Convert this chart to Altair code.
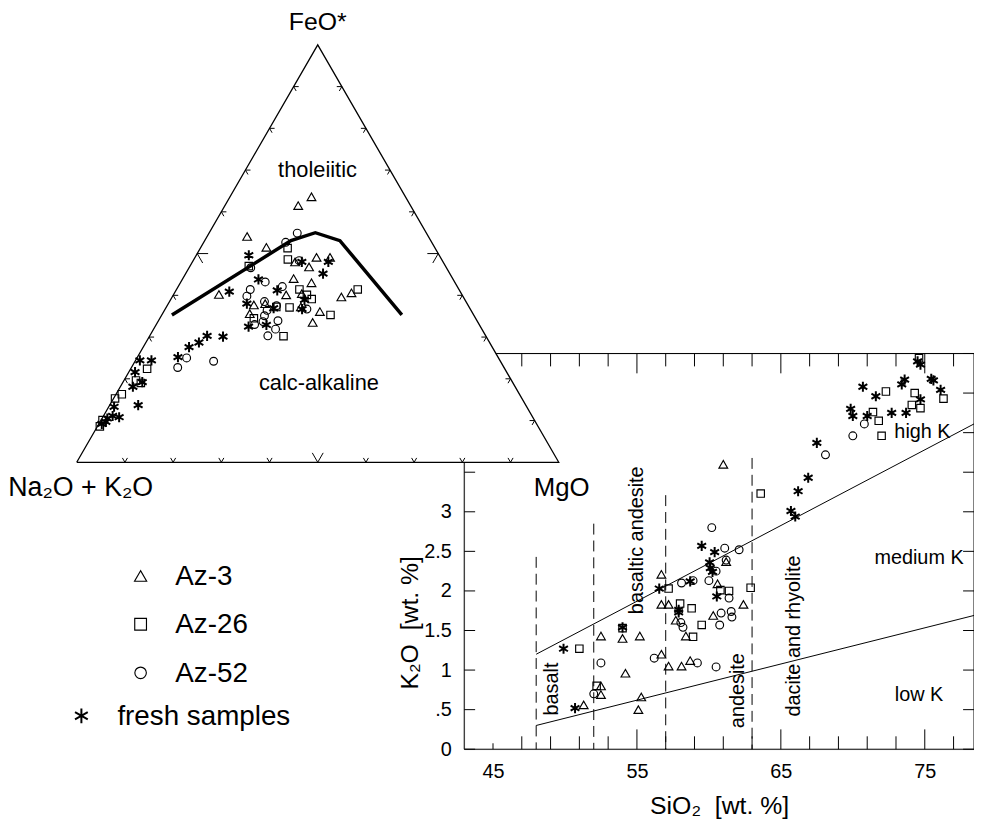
import altair as alt
import pandas as pd

# ---------------- K2O vs SiO2 (wt. %) ----------------
az3_sio2 = [61.0, 61.2, 56.7, 60.6, 56.7, 57.2, 62.4, 57.7, 60.3, 58.4, 52.5, 54.0, 55.2,
            56.7, 57.2, 58.1, 58.7, 54.2, 52.5, 52.5, 51.3, 55.3, 55.1]
az3_k2o = [3.60, 2.37, 2.21, 2.09, 1.83, 1.83, 1.83, 1.63, 1.69, 1.43, 1.43, 1.40, 1.43,
           1.20, 1.05, 1.05, 1.12, 0.96, 0.80, 0.69, 0.56, 0.66, 0.50]
az26_sio2 = [74.6, 72.3, 74.3, 76.3, 71.4, 74.1, 74.7, 71.8, 72.0, 63.6, 57.2, 60.8, 61.4,
             62.9, 58.0, 58.8, 59.5, 54.0, 51.0, 52.2, 58.9]
az26_k2o = [4.94, 4.52, 4.50, 4.43, 4.26, 4.35, 4.31, 4.15, 3.96, 3.23, 2.03, 2.01, 2.00,
            2.04, 1.84, 1.78, 1.57, 1.53, 1.27, 0.80, 1.42]
az52_sio2 = [70.0, 70.8, 68.1, 60.2, 61.1, 62.1, 61.2, 60.5, 60.0, 58.1, 58.9, 61.4, 61.55,
             61.6, 60.85, 60.75, 58.05, 58.2, 56.2, 59.2, 60.5, 52.5, 52.0]
az52_k2o = [3.96, 4.11, 3.72, 2.80, 2.54, 2.52, 2.39, 2.25, 2.13, 2.10, 2.13, 1.91, 1.74,
            1.67, 1.72, 1.57, 1.60, 1.54, 1.15, 1.09, 1.04, 1.09, 0.70]
fresh_sio2 = [74.5, 74.7, 75.45, 75.6, 76.1, 73.6, 73.4, 70.7, 71.6, 74.7, 69.85, 70.0, 71.0,
              72.7, 73.7, 67.5, 66.9, 66.2, 65.7, 66.0, 59.5, 60.4, 60.05, 60.1, 60.25, 58.7,
              56.55, 60.55, 57.9, 57.9, 54.0, 49.9, 50.7]
fresh_k2o = [4.90, 4.86, 4.68, 4.66, 4.54, 4.67, 4.61, 4.58, 4.46, 4.42, 4.30, 4.21, 4.21,
             4.25, 4.25, 3.87, 3.43, 3.26, 3.01, 2.94, 2.57, 2.49, 2.36, 2.29, 2.24, 2.12,
             2.03, 1.93, 1.76, 1.73, 1.54, 1.27, 0.52]

# boundary lines and rock-name divisions
hk_sio2 = [48.0, 78.42]
hk_k2o = [1.20, 4.11]
lk_sio2 = [48.0, 78.42]
lk_k2o = [0.30, 1.69]
div_sio2 = [48, 52, 57, 63]
div_top = [2.43, 2.85, 3.21, 3.68]

k_label_text = ["basalt", "basaltic andesite", "andesite", "dacite and rhyolite"]
k_label_sio2 = [49.1, 55.0, 62.05, 65.9]
k_label_k2o = [0.76, 2.64, 0.74, 1.43]
s_label_text = ["high K", "medium K", "low K"]
s_label_sio2 = [74.84, 74.6, 74.6]
s_label_k2o = [4.01, 2.41, 0.68]

x_label_vals = [45, 55, 65, 75]
x_tick_vals = list(range(45, 78, 2))
y_label_vals = [0, 0.5, 1, 1.5, 2, 2.5, 3]
y_tick_vals = [0, 0.5, 1, 1.5, 2, 2.5, 3, 3.5, 4, 4.5, 5]

# ---------------- AFM ternary (FeO*, MgO; rest = Na2O+K2O) ----------------
az3_feo = [63.6, 61.5, 54.1, 51.5, 49.1, 49.1, 48.0, 46.8, 44.0, 43.0, 40.1, 40.2, 40.4,
           39.6, 40.6, 37.7, 38.0, 35.6, 36.1, 33.5, 37.2]
az3_mgo = [16.9, 15.2, 8.3, 13.6, 25.2, 28.0, 21.3, 24.8, 23.0, 27.2, 23.4, 9.4, 26.5,
           35.1, 36.7, 17.9, 20.1, 18.1, 32.4, 32.2, 27.9]
az26_feo = [51.3, 48.6, 47.0, 41.4, 39.1, 41.4, 37.2, 37.1, 35.3, 34.5, 30.2, 40.1, 22.4,
            19.6, 19.0, 15.3, 16.3, 8.6, 10.1]
az26_mgo = [18.1, 19.5, 12.2, 25.5, 29.2, 37.6, 22.8, 25.6, 35.0, 19.5, 27.8, 27.7, 3.4,
            2.5, 3.8, 0.3, 1.2, 0.5, 0.3]
az52_feo = [54.9, 52.7, 46.6, 48.3, 43.2, 42.1, 41.4, 39.8, 38.5, 37.5, 36.4, 35.1, 33.9,
            33.7, 33.0, 31.9, 30.3, 36.7, 25.0, 22.7, 24.2]
az52_mgo = [18.3, 17.0, 12.8, 22.0, 17.5, 21.6, 15.3, 15.4, 19.7, 22.7, 21.3, 21.4, 24.8,
            21.8, 20.4, 25.3, 24.5, 29.4, 10.3, 9.6, 16.3]
fresh_feo = [49.6, 48.0, 48.0, 45.2, 43.8, 40.9, 41.2, 38.0, 38.9, 36.9, 36.7, 32.5, 32.9,
             30.3, 28.7, 30.1, 27.6, 25.2, 24.4, 24.4, 21.6, 19.2, 18.1, 13.7, 13.3, 10.8,
             11.1, 10.5, 9.7, 9.2]
fresh_mgo = [10.9, 22.7, 28.2, 28.5, 15.8, 11.2, 21.0, 16.3, 27.8, 22.4, 28.4, 19.4, 22.9,
             11.9, 11.0, 15.3, 9.5, 8.4, 0.9, 3.3, 1.3, 4.0, 2.6, 5.9, 1.1, 3.4,
             1.9, 1.1, 1.2, 0.6]

bnd_feo = [35.3, 53.1, 55.0, 53.1, 35.3]
bnd_mgo = [2.1, 17.9, 22.0, 28.05, 49.8]

t_label_text = ["tholeiitic", "calc-alkaline"]
t_label_feo = [69.9, 18.9]
t_label_mgo = [15.0, 40.8]

tern_tick_fracs = [0.1, 0.2, 0.3, 0.4, 0.5, 0.6, 0.7, 0.8, 0.9]
groups = ["Az-3", "Az-26", "Az-52", "fresh samples"]

# ---------------- layout / style ----------------
FONT = "Liberation Sans"
SQ = 0.8660254
W, H = 514, 399                 # K2O plot area
PAD = {"left": 460, "top": 345, "right": 0, "bottom": 67}
OX, OY = 468, 353               # page position of plot origin
TX0, TX1 = 77.3 - OX, 563.3 - OX
TY0, TY1 = 462.7 - OY, 41.8 - OY
STAR = "M0,-1L0,1M-0.866,-0.5L0.866,0.5M-0.866,0.5L0.866,-0.5"
style = {
    "Az-3": dict(shape="triangle-up", size=78, strokeWidth=1.15),
    "Az-26": dict(shape="square", size=56, strokeWidth=1.15),
    "Az-52": dict(shape="circle", size=62, strokeWidth=1.15),
    "fresh samples": dict(shape=STAR, size=105, strokeWidth=2.0),
}

xk = alt.Scale(domain=[43, 78.42], nice=False, zero=False)
yk = alt.Scale(domain=[0, 5], nice=False, zero=False)
ux = alt.Scale(domain=[0, 1], range=[TX0, TX1], nice=False, zero=False)
vy = alt.Scale(domain=[0, SQ], range=[TY0, TY1], nice=False, zero=False)

k_sets = {"Az-3": (az3_sio2, az3_k2o), "Az-26": (az26_sio2, az26_k2o),
          "Az-52": (az52_sio2, az52_k2o), "fresh samples": (fresh_sio2, fresh_k2o)}
t_sets = {"Az-3": (az3_feo, az3_mgo), "Az-26": (az26_feo, az26_mgo),
          "Az-52": (az52_feo, az52_mgo), "fresh samples": (fresh_feo, fresh_mgo)}

blank = pd.DataFrame({"a": [0]})

x_axis = alt.Axis(orient="bottom", values=x_label_vals, format="d", ticks=False, tickSize=0,
                  domain=False, grid=False, labelFont=FONT, labelFontSize=20,
                  labelColor="black", labelPadding=13, title="SiO\u2082\u00a0 [wt. %]",
                  titleFont=FONT, titleFontSize=25, titleFontWeight="normal",
                  titleColor="black", titleBaseline="alphabetic", titleY=65)
y_axis = alt.Axis(orient="left", values=y_label_vals,
                  labelExpr="datum.value == 0.5 ? '.5' : format(datum.value, '~g')",
                  ticks=False, tickSize=0, domain=False, grid=False, labelFont=FONT,
                  labelFontSize=20, labelColor="black", labelPadding=13,
                  title="K\u2082O\u00a0 [wt. %]", titleFont=FONT, titleFontSize=25,
                  titleFontWeight="normal", titleColor="black", titleAngle=270,
                  titleX=-55, titleY=271, titleAlign="center", titleBaseline="middle")

# ---------------- K2O panel layers ----------------
k_layers = []
box = alt.Chart(blank).mark_rule(color="black", strokeWidth=1)
k_layers += [
    box.encode(x=alt.value(0), x2=alt.value(W), y=alt.value(0)),
    box.encode(x=alt.value(0), x2=alt.value(W), y=alt.value(H)),
    box.encode(x=alt.value(0), y=alt.value(0), y2=alt.value(H)),
    box.encode(x=alt.value(W), y=alt.value(0), y2=alt.value(H)),
]


def tick_len(v, bottom):
    if v in (55, 65, 75):
        return 20
    if bottom and v == 45:
        return 6
    return 13


for bottom in (True, False):
    for L in (6, 13, 20):
        vals = [v for v in x_tick_vals if tick_len(v, bottom) == L]
        if not vals:
            continue
        r = alt.Chart(pd.DataFrame({"v": vals})).mark_rule(color="black", strokeWidth=1)
        if bottom:
            k_layers.append(r.encode(x=alt.X("v:Q", scale=xk, axis=None),
                                     y=alt.value(H), y2=alt.value(H - L)))
        else:
            k_layers.append(r.encode(x=alt.X("v:Q", scale=xk, axis=None),
                                     y=alt.value(0), y2=alt.value(L)))

yt = alt.Chart(pd.DataFrame({"v": y_tick_vals})).mark_rule(color="black", strokeWidth=1)
k_layers += [
    yt.encode(y=alt.Y("v:Q", scale=yk, axis=None), x=alt.value(0), x2=alt.value(11)),
    yt.encode(y=alt.Y("v:Q", scale=yk, axis=None), x=alt.value(W - 11), x2=alt.value(W)),
]

lines_df = pd.DataFrame({"sio2": hk_sio2 + lk_sio2, "k2o": hk_k2o + lk_k2o,
                         "line": ["hk", "hk", "lk", "lk"]})
k_layers.append(alt.Chart(lines_df).mark_line(color="black", strokeWidth=1).encode(
    x=alt.X("sio2:Q", scale=xk, axis=None), y=alt.Y("k2o:Q", scale=yk, axis=None),
    detail="line:N"))

div_df = pd.DataFrame({"sio2": div_sio2, "top": div_top})
k_layers.append(alt.Chart(div_df).mark_rule(color="black", strokeWidth=1,
                                            strokeDash=[11, 6]).encode(
    x=alt.X("sio2:Q", scale=xk, axis=None), y=alt.Y("top:Q", scale=yk, axis=None),
    y2=alt.datum(0)))

first = True
for g in groups:
    xs, ys = k_sets[g]
    df = pd.DataFrame({"sio2": xs, "k2o": ys, "group": g})
    st = style[g]
    k_layers.append(alt.Chart(df).mark_point(color="black", filled=False, opacity=1,
                                             shape=st["shape"], size=st["size"],
                                             strokeWidth=st["strokeWidth"]).encode(
        x=alt.X("sio2:Q", scale=xk, axis=x_axis if first else None),
        y=alt.Y("k2o:Q", scale=yk, axis=y_axis if first else None)))
    first = False

kl_df = pd.DataFrame({"t": k_label_text, "sio2": k_label_sio2, "k2o": k_label_k2o})
k_layers.append(alt.Chart(kl_df).mark_text(angle=270, align="center", baseline="middle",
                                           font=FONT, fontSize=20, color="black").encode(
    x=alt.X("sio2:Q", scale=xk, axis=None), y=alt.Y("k2o:Q", scale=yk, axis=None), text="t:N"))
sl_df = pd.DataFrame({"t": s_label_text, "sio2": s_label_sio2, "k2o": s_label_k2o})
k_layers.append(alt.Chart(sl_df).mark_text(align="center", baseline="middle",
                                           font=FONT, fontSize=20, color="black").encode(
    x=alt.X("sio2:Q", scale=xk, axis=None), y=alt.Y("k2o:Q", scale=yk, axis=None), text="t:N"))

# ---------------- ternary panel layers ----------------
UCALC = "datum.mgo / 100 + datum.feo / 200"
VCALC = "datum.feo / 100 * 0.8660254"


def tx(f="u"):
    return alt.X(f"{f}:Q", scale=ux, axis=None)


def ty(f="v"):
    return alt.Y(f"{f}:Q", scale=vy, axis=None)


t_layers = []
tri = pd.DataFrame({"u": [0, 0.5, 1], "v": [0, SQ, 0]})
t_layers.append(alt.Chart(tri).mark_area(color="white", opacity=1).encode(
    x=tx(), y=ty(), y2=alt.datum(0)))
outline = pd.DataFrame({"u": [0, 0.5, 1, 0], "v": [0, SQ, 0, 0], "i": [0, 1, 2, 3]})
t_layers.append(alt.Chart(outline).mark_line(color="black", strokeWidth=1.3).encode(
    x=tx(), y=ty(), order="i:Q"))

rows = []
for f in tern_tick_fracs:
    L = 0.0226 if abs(f - 0.5) < 1e-9 else 0.0105
    for (px, py), dirs in (
        ((f, 0.0), [(0.5, SQ), (-0.5, SQ)]),
        ((0.5 * f, SQ * f), [(1.0, 0.0), (0.5, -SQ)]),
        ((1 - 0.5 * f, SQ * f), [(-1.0, 0.0), (-0.5, -SQ)]),
    ):
        for dx, dy in dirs:
            rows.append({"u": px, "v": py, "u2": px + L * dx, "v2": py + L * dy})
tt_df = pd.DataFrame(rows)
t_layers.append(alt.Chart(tt_df).mark_rule(color="black", strokeWidth=1).encode(
    x=tx(), y=ty(), x2="u2:Q", y2="v2:Q"))

bnd_df = pd.DataFrame({"feo": bnd_feo, "mgo": bnd_mgo, "i": list(range(len(bnd_feo)))})
t_layers.append(alt.Chart(bnd_df).transform_calculate(u=UCALC, v=VCALC).mark_line(
    color="black", strokeWidth=3.5, strokeJoin="miter").encode(x=tx(), y=ty(), order="i:Q"))

for g in groups:
    fe, mg = t_sets[g]
    df = pd.DataFrame({"feo": fe, "mgo": mg, "group": g})
    st = style[g]
    t_layers.append(alt.Chart(df).transform_calculate(u=UCALC, v=VCALC).mark_point(
        color="black", filled=False, opacity=1, shape=st["shape"], size=st["size"],
        strokeWidth=st["strokeWidth"]).encode(x=tx(), y=ty()))

tl_df = pd.DataFrame({"t": t_label_text, "feo": t_label_feo, "mgo": t_label_mgo})
t_layers.append(alt.Chart(tl_df).transform_calculate(u=UCALC, v=VCALC).mark_text(
    align="center", baseline="middle", font=FONT, fontSize=22, color="black").encode(
    x=tx(), y=ty(), text="t:N"))

vx = pd.DataFrame({"t": ["FeO*"], "feo": [100.0], "mgo": [0.0]})
t_layers.append(alt.Chart(vx).transform_calculate(u=UCALC, v=VCALC).mark_text(
    align="center", baseline="alphabetic", dy=-15, font=FONT, fontSize=25,
    color="black").encode(x=tx(), y=ty(), text="t:N"))
vx2 = pd.DataFrame({"t": ["Na\u2082O + K\u2082O"], "feo": [0.0], "mgo": [0.0]})
t_layers.append(alt.Chart(vx2).transform_calculate(u=UCALC, v=VCALC).mark_text(
    align="center", baseline="alphabetic", dx=4, dy=34, font=FONT, fontSize=27,
    color="black").encode(x=tx(), y=ty(), text="t:N"))
vx3 = pd.DataFrame({"t": ["MgO"], "feo": [0.0], "mgo": [100.0]})
t_layers.append(alt.Chart(vx3).transform_calculate(u=UCALC, v=VCALC).mark_text(
    align="center", baseline="alphabetic", dx=3, dy=34, font=FONT, fontSize=26,
    color="black").encode(x=tx(), y=ty(), text="t:N"))

# ---------------- legend (manual, pixel layout) ----------------
leg_sym_x = [141.7, 141.7, 141.7, 82.0]
leg_sym_y = [577.3, 626.0, 675.0, 718.3]
leg_txt_x = [176.7, 176.7, 176.7, 118.3]
leg_size = {"Az-3": 150, "Az-26": 140, "Az-52": 135, "fresh samples": 220}
leg_rows = []
for i, g in enumerate(groups):
    st = style[g]
    leg_rows.append({"label": g, "shape": st["shape"], "size": leg_size[g],
                     "sw": st["strokeWidth"],
                     "sx": leg_sym_x[i] - OX, "sy": leg_sym_y[i] - OY,
                     "tx": leg_txt_x[i] - OX, "ty": leg_sym_y[i] - OY + 9})
leg_df = pd.DataFrame(leg_rows)
leg_pts = alt.Chart(leg_df).mark_point(color="black", filled=False, opacity=1).encode(
    x=alt.X("sx:Q", scale=None, axis=None), y=alt.Y("sy:Q", scale=None, axis=None),
    shape=alt.Shape("shape:N", scale=None, legend=None),
    size=alt.Size("size:Q", scale=None, legend=None),
    strokeWidth=alt.StrokeWidth("sw:Q", scale=None, legend=None))
leg_txt = alt.Chart(leg_df).mark_text(align="left", baseline="alphabetic", font=FONT,
                                      fontSize=28, color="black").encode(
    x=alt.X("tx:Q", scale=None, axis=None), y=alt.Y("ty:Q", scale=None, axis=None),
    text="label:N")

all_layers = k_layers + t_layers + [leg_pts, leg_txt]

chart = (
    alt.layer(*all_layers)
    .resolve_scale(x="independent", y="independent")
    .properties(width=W, height=H, padding=PAD,
                autosize=alt.AutoSizeParams(type="none"), background="white")
    .configure_view(strokeWidth=0)
    .configure(font=FONT)
)

chart.save("out.html", embed_options={"renderer": "svg", "actions": False})
